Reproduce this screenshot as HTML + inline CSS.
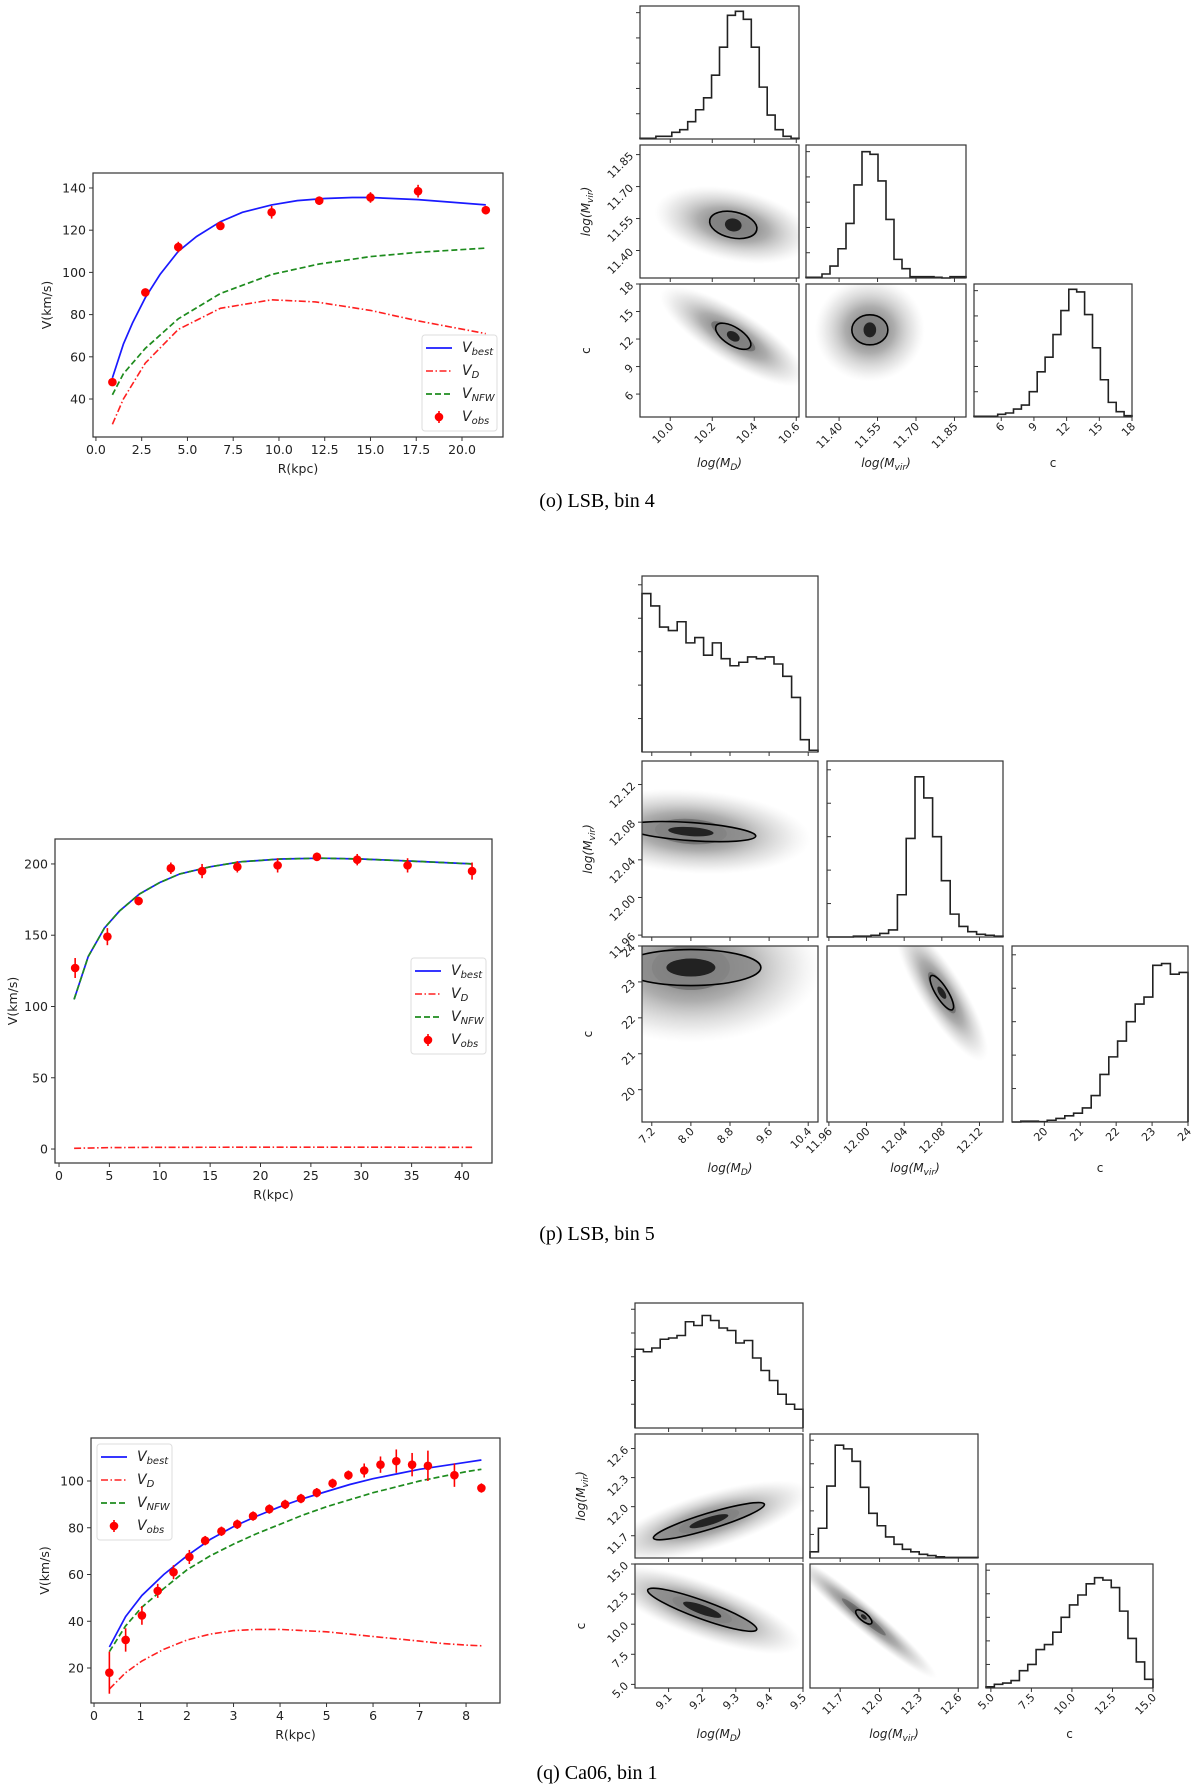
<!DOCTYPE html>
<html><head><meta charset="utf-8"><style>
html,body{margin:0;padding:0;background:#fff;}
svg{display:block;}
text{font-family:"DejaVu Sans","Liberation Sans",sans-serif;fill:#222;}
.cap{font-family:"Liberation Serif",serif;font-size:20px;fill:#000;}
</style></head><body>
<svg id="fig" width="1200" height="1784" viewBox="0 0 1200 1784" xmlns="http://www.w3.org/2000/svg">
<defs>
<radialGradient id="cloud" cx="50%" cy="50%" r="50%">
<stop offset="0%" stop-color="#555" stop-opacity="0.9"/>
<stop offset="45%" stop-color="#777" stop-opacity="0.6"/>
<stop offset="80%" stop-color="#aaa" stop-opacity="0.25"/>
<stop offset="100%" stop-color="#ccc" stop-opacity="0"/>
</radialGradient>
</defs>
<text class="cap" x="597" y="507" text-anchor="middle">(o) LSB, bin 4</text>
<text class="cap" x="597" y="1240" text-anchor="middle">(p) LSB, bin 5</text>
<text class="cap" x="597" y="1779" text-anchor="middle">(q) Ca06, bin 1</text>
</svg>
<script>
// ---------- Panel o data ----------
const oObsR=[0.9,2.7,4.5,6.8,9.6,12.2,15.0,17.6,21.3];
const oObsV=[48,90.5,112,122,128.5,134,135.5,138.5,129.5];
const oObsE=[1.5,1.5,2.5,1.5,3,2,2.5,3,2];
const oModR=[0.9,1.5,2,2.7,3.5,4.5,5.5,6.8,8,9.6,11,12.5,14,15,17.6,21.3];
const oBest=[50,66,76,88,99,110,117,124,128.5,132,134,135,135.5,135.5,134.5,132];
const oNfwR=[0.9,1.5,2.7,4.5,6.8,9.6,12.2,15,17.6,21.3];
const oNfw=[42,52,64,78,90,99,104,107.5,109.5,111.5];
const oDR=[0.9,1.5,2.7,4.5,6.8,9.6,12,15,17.6,21.3];
const oD=[28,40,57,73,83,87,86,82,77,71];
const oXTicks=[0,2.5,5,7.5,10,12.5,15,17.5,20];
const oXLabels=["0.0","2.5","5.0","7.5","10.0","12.5","15.0","17.5","20.0"];
const oYTicks=[40,60,80,100,120,140];
// ---------- Panel p data ----------
const pObsR=[1.6,4.8,7.9,11.1,14.2,17.7,21.7,25.6,29.6,34.6,41.0];
const pObsV=[127,149,174,197,195,198,199,205,203,199,195];
const pObsE=[7,6,3,4,5,4,5,3,4,5,6];
const pModR=[1.5,2.9,4.5,6,8,10,12,15,18,22,26,30,35,41];
const pBest=[105,135,155,167,179,187,193,198,201.5,203.5,204,203.5,202,200];
const pNfw=[105,135,155,167,179,187,193,198,201.5,203.5,204,203.5,202,200];
const pDR=[1.5,5,10,20,30,41];
const pD=[0.5,1,1.2,1.3,1.3,1.2];
const pXTicks=[0,5,10,15,20,25,30,35,40];
const pYTicks=[0,50,100,150,200];
// ---------- Panel q data ----------
const qObsR=[0.33,0.68,1.03,1.37,1.71,2.05,2.39,2.74,3.08,3.42,3.77,4.11,4.45,4.79,5.13,5.47,5.81,6.16,6.5,6.84,7.18,7.75,8.33];
const qObsV=[18,32,42.5,53,61,67.5,74.5,78.5,81.5,85,88,90,92.5,95,99,102.5,104.5,107,108.5,107,106.5,102.5,97];
const qObsE=[9,5,4,3,3,3,2,2,2,2,2,2,2,2,2,2,3,3.5,5,5,6.5,5,2];
const qModR=[0.33,0.68,1.03,1.5,2,2.5,3,3.5,4,4.5,5,5.5,6,6.5,7,7.5,8,8.33];
const qBest=[29,42,51,60,68,75,80.5,85,89,92.5,95.5,98.5,101,103,105,106.5,108,109];
const qNfw=[27,38,46,54,62,68,73,77.5,81.5,85.5,89,92,95,97.5,100,102,104,105];
const qD=[11,18,23,28,32,34.5,36,36.5,36.5,36,35.5,34.5,33.5,32.5,31.5,30.5,29.8,29.5];
const qXTicks=[0,1,2,3,4,5,6,7,8];
const qYTicks=[20,40,60,80,100];
// ---------- Corner histograms ----------
const oHistMD=[0.005,0.005,0.02,0.02,0.05,0.07,0.13,0.22,0.31,0.48,0.69,0.93,0.96,0.90,0.69,0.39,0.18,0.07,0.02,0.005];
const oHistMvir=[0.005,0.005,0.03,0.09,0.22,0.41,0.70,0.95,0.93,0.73,0.44,0.14,0.07,0.01,0.01,0.01,0.005,0.0,0.01,0.01];
const oHistC=[0.005,0.005,0.005,0.02,0.03,0.06,0.09,0.19,0.34,0.45,0.62,0.80,0.96,0.94,0.77,0.52,0.28,0.11,0.04,0.01];
const pHistMD=[0.90,0.83,0.71,0.69,0.74,0.62,0.65,0.55,0.62,0.53,0.49,0.51,0.54,0.53,0.54,0.50,0.43,0.31,0.07,0.01];
const pHistMvir=[0,0,0,0.005,0.005,0.01,0.02,0.04,0.24,0.56,0.91,0.79,0.57,0.32,0.13,0.06,0.03,0.015,0.01,0.005];
const pHistC=[0.0,0.005,0.005,0.002,0.01,0.02,0.035,0.05,0.08,0.15,0.27,0.37,0.46,0.57,0.67,0.71,0.89,0.90,0.84,0.85];
const qHistMD=[0.63,0.61,0.64,0.71,0.72,0.74,0.85,0.82,0.90,0.86,0.80,0.78,0.68,0.70,0.56,0.46,0.38,0.27,0.19,0.15];
const qHistMvir=[0.05,0.24,0.58,0.91,0.88,0.78,0.57,0.36,0.26,0.17,0.11,0.07,0.05,0.03,0.02,0.01,0.005,0.005,0.005,0.005];
const qHistC=[0.01,0.03,0.04,0.06,0.14,0.19,0.31,0.35,0.45,0.57,0.67,0.75,0.84,0.89,0.87,0.81,0.62,0.40,0.21,0.07];

const NS="http://www.w3.org/2000/svg";
const svg=document.getElementById('fig');
function el(tag,attrs,parent){const e=document.createElementNS(NS,tag);for(const k in attrs)e.setAttribute(k,attrs[k]);(parent||svg).appendChild(e);return e;}
function lin(d0,d1,r0,r1){return v=>r0+(v-d0)*(r1-r0)/(d1-d0);}

function legendLabel(g,x,y,sub){
  const t=el('text',{x:x,y:y,'font-size':14,'font-style':'italic'},g);
  
  
  t.appendChild(document.createTextNode('V'));
  const s=el('tspan',{'font-size':10,dy:3},t);s.textContent=sub;
}

function rotPanel(id,box,xd,yd,xt,xl,yt,obsR,obsV,obsE,bestR,best,nfwR,nfw,dR,d,leg){
  const g=el('g',{});
  
  
  const X=lin(xd[0],xd[1],box.x0,box.x1),Y=lin(yd[0],yd[1],box.y1,box.y0);
  xt.forEach((v,i)=>{const px=X(v);el('line',{x1:px,x2:px,y1:box.y1,y2:box.y1+4,stroke:'#333'},g);
    const t=el('text',{x:px,y:box.y1+17,'font-size':12.5,'text-anchor':'middle'},g);t.textContent=xl?xl[i]:String(v);
    });
  yt.forEach(v=>{const py=Y(v);el('line',{x1:box.x0-4,x2:box.x0,y1:py,y2:py,stroke:'#333'},g);
    const t=el('text',{x:box.x0-7,y:py+4.5,'font-size':12.5,'text-anchor':'end'},g);t.textContent=String(v);
    });
  const xtitle=el('text',{x:(box.x0+box.x1)/2,y:box.y1+36,'font-size':12.5,'text-anchor':'middle'},g);xtitle.textContent='R(kpc)';
  
  const ytx=box.x0-(id==='p'?38:42), yty=(box.y0+box.y1)/2;
  const ytitle=el('text',{x:ytx,y:yty,'font-size':12.5,'text-anchor':'middle',transform:`rotate(-90 ${ytx} ${yty})`},g);ytitle.textContent='V(km/s)';
  
  const pts=(R,V)=>R.map((r,i)=>X(r).toFixed(1)+','+Y(V[i]).toFixed(1)).join(' ');
  const lD=el('polyline',{points:pts(dR,d),fill:'none',stroke:'#ff2020','stroke-width':1.6,'stroke-dasharray':'7,2.5,1.5,2.5'},g);
  
  const lB=el('polyline',{points:pts(bestR,best),fill:'none',stroke:'#1a1aff','stroke-width':1.7},g);
  
  const lN=el('polyline',{points:pts(nfwR,nfw),fill:'none',stroke:'#1e8c1e','stroke-width':1.7,'stroke-dasharray':'6,3'},g);
  
  obsR.forEach((r,i)=>{
    const eb=el('line',{x1:X(r),x2:X(r),y1:Y(obsV[i]-obsE[i]),y2:Y(obsV[i]+obsE[i]),stroke:'red','stroke-width':1.6},g);
    
    const c=el('circle',{cx:X(r),cy:Y(obsV[i]),r:4.3,fill:'red'},g);
    
  });
  const fr=el('rect',{x:box.x0,y:box.y0,width:box.x1-box.x0,height:box.y1-box.y0,fill:'none',stroke:'#333','stroke-width':1.2},g);
  
  const lg=el('g',{},g);
  
  el('rect',{x:leg.x,y:leg.y,width:75,height:96,rx:3,fill:'#fff','fill-opacity':0.85,stroke:'#ddd'},lg);
  const ys=[leg.y+13,leg.y+36,leg.y+59,leg.y+82];
  el('line',{x1:leg.x+4,x2:leg.x+30,y1:ys[0],y2:ys[0],stroke:'#1a1aff','stroke-width':1.7},lg);
  el('line',{x1:leg.x+4,x2:leg.x+30,y1:ys[1],y2:ys[1],stroke:'#ff2020','stroke-width':1.6,'stroke-dasharray':'7,2.5,1.5,2.5'},lg);
  el('line',{x1:leg.x+4,x2:leg.x+30,y1:ys[2],y2:ys[2],stroke:'#1e8c1e','stroke-width':1.7,'stroke-dasharray':'6,3'},lg);
  el('line',{x1:leg.x+17,x2:leg.x+17,y1:ys[3]-6,y2:ys[3]+6,stroke:'red','stroke-width':1.6},lg);
  el('circle',{cx:leg.x+17,cy:ys[3],r:4.3,fill:'red'},lg);
  legendLabel(lg,leg.x+40,ys[0]+4,'best');
  legendLabel(lg,leg.x+40,ys[1]+4,'D');
  legendLabel(lg,leg.x+40,ys[2]+4,'NFW');
  legendLabel(lg,leg.x+40,ys[3]+4,'obs');
}

rotPanel('o',{x0:93,x1:503,y0:173,y1:437},[-0.16,22.24],[22.0,147.1],oXTicks,oXLabels,oYTicks,
  oObsR,oObsV,oObsE,oModR,oBest,oNfwR,oNfw,oDR,oD,{x:422,y:335});
rotPanel('p',{x0:55,x1:492,y0:839,y1:1163},[-0.4,42.98],[-9.8,217.5],pXTicks,null,pYTicks,
  pObsR,pObsV,pObsE,pModR,pBest,pModR,pNfw,pDR,pD,{x:411,y:958});
rotPanel('q',{x0:91,x1:500,y0:1438,y1:1703},[-0.065,8.73],[5.03,118.4],qXTicks,null,qYTicks,
  qObsR,qObsV,qObsE,qModR,qBest,qModR,qNfw,qModR,qD,{x:97,y:1444});

function paramLabel(g,x,y,kind){
  const t=el('text',{x:x,y:y,'font-size':12,'text-anchor':'middle','font-style':kind==='c'?'normal':'italic'},g);
  
  if(kind==='c'){t.textContent='c';return;}
  t.appendChild(document.createTextNode('log(M'));
  const s=el('tspan',{'font-size':9,dy:3},t);s.textContent=kind==='MD'?'D':'vir';
  const e=el('tspan',{dy:-3},t);e.textContent=')';
}
function corner(id,cols,rows,doms,ticks,tlabels,hists,clouds){
  const g=el('g',{});
  
  const kinds=['MD','Mvir','c'];
  for(let r=0;r<3;r++)for(let c=0;c<=r;c++){
    const x0=cols[c][0],x1=cols[c][1],y0=rows[r][0],y1=rows[r][1];
    const pg=el('g',{},g);
    
    
    const X=lin(doms[c][0],doms[c][1],x0,x1);
    const clipId='clip'+id+r+c;
    const cp=el('clipPath',{id:clipId},pg);el('rect',{x:x0,y:y0,width:x1-x0,height:y1-y0},cp);
    if(r===c){
      const h=hists[c],n=h.length,bw=(x1-x0)/n,H=y1-y0;
      let d=`M${x0},${y1}`;
      h.forEach((v,i)=>{const yy=y1-v*H;d+=` L${x0+i*bw},${yy} L${x0+(i+1)*bw},${yy}`;});
      d+=` L${x1},${y1}`;
      const p=el('path',{d:d,fill:'none',stroke:'#222','stroke-width':1.6},pg);
      
      for(let k=1;k<=5;k++){const yy=y1-k*H*0.19;el('line',{x1:x0-(c===0?4:0),x2:x0+(c===0?0:4),y1:yy,y2:yy,stroke:'#333'},pg);}
    }else{
      const Y=lin(doms[r][0],doms[r][1],y1,y0);
      const cg=el('g',{'clip-path':`url(#${clipId})`},pg);
      clouds[r+''+c].forEach(cl=>{
        const cx=X(cl[0]),cy=Y(cl[1]);
        el('ellipse',{cx:cx,cy:cy,rx:cl[2],ry:cl[3],transform:`rotate(${cl[4]} ${cx} ${cy})`,fill:'url(#cloud)'},cg);
        el('ellipse',{cx:cx,cy:cy,rx:cl[2]*0.3,ry:cl[3]*0.3,transform:`rotate(${cl[4]} ${cx} ${cy})`,fill:'#333','fill-opacity':0.35},cg);
        const ct=el('ellipse',{cx:cx,cy:cy,rx:cl[5],ry:cl[6],transform:`rotate(${cl[4]} ${cx} ${cy})`,fill:'#888','fill-opacity':0.8,stroke:'#000','stroke-width':1.6},cg);
        
        el('ellipse',{cx:cx,cy:cy,rx:cl[5]*0.35,ry:cl[6]*0.5,transform:`rotate(${cl[4]} ${cx} ${cy})`,fill:'#222'},cg);
      });
      if(c===0){
        ticks[r].forEach((v,i)=>{const py=Y(v);el('line',{x1:x0-4,x2:x0,y1:py,y2:py,stroke:'#333'},pg);
          const tx=x0-8,ty=py+3;
          const t=el('text',{x:tx,y:ty,'font-size':11,'text-anchor':'end',transform:`rotate(-45 ${tx} ${py})`},pg);t.textContent=tlabels[r][i];
          });
        const lx=x0-50,ly=(y0+y1)/2;
        const lg=el('g',{transform:`rotate(-90 ${lx} ${ly})`},pg);
        paramLabel(lg,lx,ly,kinds[r]);
      }
    }
    ticks[c].forEach((v,i)=>{const px=X(v);if(px<x0-1||px>x1+1)return;
      el('line',{x1:px,x2:px,y1:y1,y2:y1+4,stroke:'#333'},pg);
      if(r===2){const tx=px+4,ty=y1+10;
        const t=el('text',{x:tx,y:ty,'font-size':11,'text-anchor':'end',transform:`rotate(-45 ${tx} ${ty})`},pg);t.textContent=tlabels[c][i];
        }});
    el('rect',{x:x0,y:y0,width:x1-x0,height:y1-y0,fill:'none',stroke:'#333','stroke-width':1.2},pg);
    if(r===2) paramLabel(pg,(x0+x1)/2,y1+50,kinds[c]);
  }
}

corner('o',[[640,799],[806,966],[974,1132]],[[6,139],[145,278],[284,417]],
  [[9.856,10.613],[11.271,11.895],[3.5,18.0]],
  [[10.0,10.2,10.4,10.6],[11.40,11.55,11.70,11.85],[6,9,12,15,18]],
  [["10.0","10.2","10.4","10.6"],["11.40","11.55","11.70","11.85"],["6","9","12","15","18"]],
  [oHistMD,oHistMvir,oHistC],
  {'10':[[10.3,11.52,80,36,12,24,13]],'20':[[10.3,12.3,85,26,32,20,9]],'21':[[11.52,13,55,52,0,18,15]]});
corner('p',[[642,818],[827,1003],[1012,1188]],[[576,752],[761,937],[946,1122]],
  [[7.0,10.6],[11.958,12.145],[19.1,24.0]],
  [[7.2,8.0,8.8,9.6,10.4],[11.96,12.00,12.04,12.08,12.12],[20,21,22,23,24]],
  [["7.2","8.0","8.8","9.6","10.4"],["11.96","12.00","12.04","12.08","12.12"],["20","21","22","23","24"]],
  [pHistMD,pHistMvir,pHistC],
  {'10':[[8.0,12.07,120,42,4,65,9]],'20':[[8.0,23.4,130,75,0,70,18]],'21':[[12.08,22.7,80,22,58,20,6]]});
corner('q',[[635,803],[810,978],[986,1153]],[[1303,1428],[1434,1558],[1564,1688]],
  [[9.0,9.5],[11.47,12.75],[4.7,15.0]],
  [[9.1,9.2,9.3,9.4,9.5],[11.7,12.0,12.3,12.6],[5.0,7.5,10.0,12.5,15.0]],
  [["9.1","9.2","9.3","9.4","9.5"],["11.7","12.0","12.3","12.6"],["5.0","7.5","10.0","12.5","15.0"]],
  [qHistMD,qHistMvir,qHistC],
  {'10':[[9.22,11.85,105,28,-17,58,8]],'20':[[9.2,11.2,105,28,20,58,9]],'21':[[11.88,10.6,95,13,40,10,4]]});
</script>
</body></html>
